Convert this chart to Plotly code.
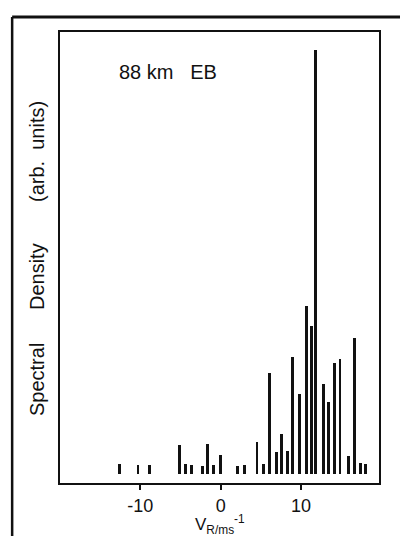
import plotly.graph_objects as go

# Radial velocity (m/s) of each spectral line
velocity = [-12.60, -10.30, -8.90, -5.13, -4.42, -3.63, -2.22, -1.59, -0.90, -0.06,
            2.14, 2.92, 4.51, 5.33, 6.04, 6.91, 7.62, 8.31, 8.94, 9.86,
            10.64, 11.26, 11.85, 12.84, 13.47, 14.21, 14.84, 15.91, 16.61, 17.45, 18.02]
# Spectral density (arbitrary units)
density = [2.4, 2.1, 2.1, 6.8, 2.4, 2.1, 1.9, 7.1, 2.1, 4.5,
           1.9, 2.1, 7.5, 2.4, 23.8, 5.2, 9.4, 5.4, 27.6, 18.9,
           39.6, 34.9, 100.0, 21.2, 17.0, 26.2, 27.1, 4.2, 32.1, 2.6, 2.4]
x_ticks = [-10, 0, 10]
x_tick_labels = ["-10", "0", "10"]

FONT = "Liberation Sans, Arial, sans-serif"
INK = "#111111"

fig = go.Figure()
fig.add_trace(go.Bar(
    x=velocity, y=density, width=0.36,
    marker=dict(color=INK, line=dict(width=0)),
    showlegend=False, hoverinfo="x+y",
))

fig.update_layout(
    width=400, height=536,
    margin=dict(l=60, r=21, t=32, b=53),
    paper_bgcolor="white", plot_bgcolor="white",
    font=dict(family=FONT, color=INK),
    bargap=0,
    xaxis=dict(
        range=[-20.0, 19.7], tickvals=x_ticks, ticktext=x_tick_labels,
        ticks="outside", ticklen=5, tickwidth=2, tickcolor=INK,
        tickfont=dict(size=18, family=FONT, color=INK),
        showline=True, linewidth=2, linecolor=INK, mirror=True,
        showgrid=False, zeroline=False,
    ),
    yaxis=dict(
        range=[-2.12, 104.2], showticklabels=False, ticks="",
        showline=True, linewidth=2, linecolor=INK, mirror=True,
        showgrid=False, zeroline=False,
    ),
    shapes=[
        # outer page frame: left edge and top edge
        dict(type="line", xref="paper", yref="paper",
             x0=-0.150, x1=-0.150, y0=-0.2, y1=1.0333,
             line=dict(color=INK, width=2.5), layer="above"),
        dict(type="line", xref="paper", yref="paper",
             x0=-0.150, x1=1.2, y0=1.0333, y1=1.0333,
             line=dict(color=INK, width=3), layer="above"),
    ],
)

anns = [
    dict(text="88 km\u00a0\u00a0\u00a0EB", x=0.179, y=0.911, xanchor="left", yanchor="middle",
         font=dict(size=20)),
    dict(text="Spectral", x=-0.072, y=(483 - 380) / 451, textangle=-90,
         xanchor="center", yanchor="middle", font=dict(size=20)),
    dict(text="Density", x=-0.072, y=(483 - 277) / 451, textangle=-90,
         xanchor="center", yanchor="middle", font=dict(size=20)),
    dict(text="(arb.\u00a0\u00a0units)", x=-0.072, y=(483 - 152) / 451, textangle=-90,
         xanchor="center", yanchor="middle", font=dict(size=20)),
    dict(text="V<sub>R/ms</sub><sup>-1</sup>", x=(220 - 60) / 319, y=(483 - 524) / 451,
         xanchor="center", yanchor="middle", font=dict(size=17)),
]
for a in anns:
    a.update(xref="paper", yref="paper", showarrow=False)
    fig.add_annotation(**a)

fig.write_html("out.html", config={"displayModeBar": False},
               post_script="document.body.style.margin='0';document.body.style.overflow='hidden';")
